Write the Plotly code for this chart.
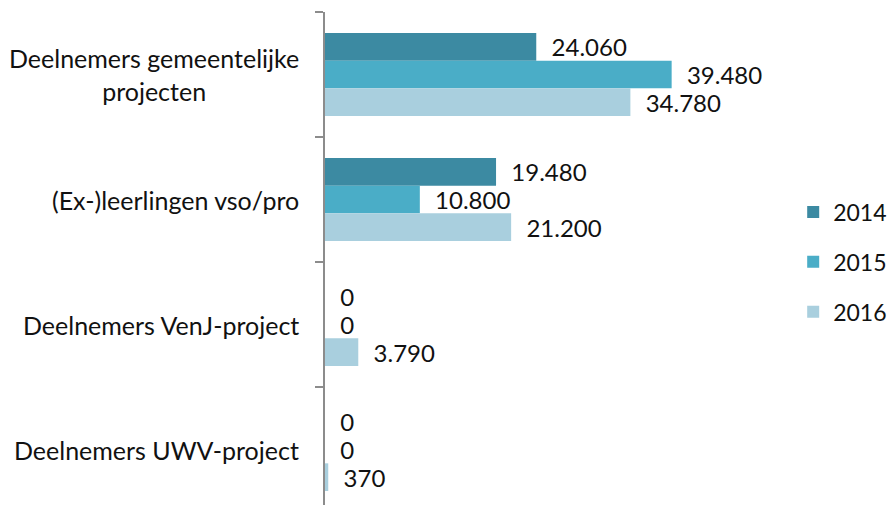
import plotly.graph_objects as go

categories = ["Deelnemers gemeentelijke<br>projecten", "(Ex-)leerlingen vso/pro",
              "Deelnemers VenJ-project", "Deelnemers UWV-project"]
series_names = ["2014", "2015", "2016"]
values_2014 = [24060, 19480, 0, 0]
values_2015 = [39480, 10800, 0, 0]
values_2016 = [34780, 21200, 3790, 370]
colors = ["#3C8AA2", "#4AADC7", "#A9CFDE"]

FONT = "Lato"
NB = "\u00a0"

fig = go.Figure()
for name, vals, col in zip(series_names, [values_2014, values_2015, values_2016], colors):
    fig.add_trace(go.Bar(
        y=categories, x=vals, name=name, orientation="h",
        marker=dict(color=col, line=dict(width=0)),
        text=vals, texttemplate=NB * 2 + "%{x:,}", textposition="outside",
        textfont=dict(family=FONT, size=24, color="#111111"),
        constraintext="none",
        cliponaxis=False, legendgroup=name,
    ))

for cat in categories:
    fig.add_annotation(x=0, xref="paper", y=cat, yref="y", text=cat,
                       xanchor="right", yanchor="middle", align="center",
                       xshift=-24, showarrow=False,
                       font=dict(family=FONT, size=25, color="#111111"))

fig.update_layout(
    width=889, height=505,
    margin=dict(l=325, r=109, t=12, b=0, pad=0, autoexpand=False),
    paper_bgcolor="white", plot_bgcolor="white",
    barmode="group", bargap=0.336, bargroupgap=0,
    separators=",.",
    font=dict(family=FONT, size=23, color="#111111"),
    showlegend=True,
    legend=dict(x=1.029, xanchor="left", y=0.493, yanchor="middle",
                font=dict(family=FONT, size=23, color="#111111"),
                tracegroupgap=17, bgcolor="rgba(0,0,0,0)"),
)
fig.update_xaxes(range=[0, 51820], visible=False, showgrid=False, zeroline=False,
                 automargin=False)
fig.update_yaxes(range=[3.444, -0.5], showticklabels=False, showgrid=False,
                 zeroline=False, showline=True, linecolor="#8C8C8C", linewidth=2,
                 ticks="outside", ticklen=8, tickcolor="#8C8C8C", tickwidth=2,
                 tickson="boundaries", automargin=False)

fig.write_html(
    "out.html",
    config={"displayModeBar": False},
    post_script="document.documentElement.style.margin='0';"
                "document.body.style.margin='0';"
                "document.body.style.overflow='hidden';",
)
